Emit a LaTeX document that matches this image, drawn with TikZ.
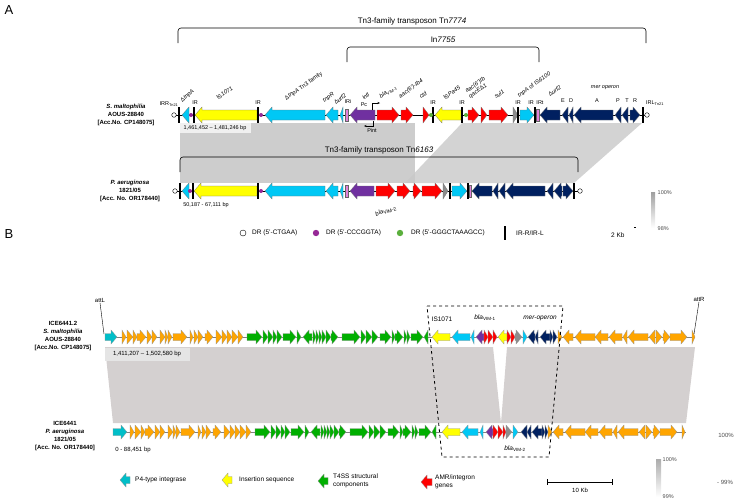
\documentclass[tikz,border=0pt]{standalone}
\usepackage{fontspec}
\setmainfont{Liberation Sans}
\usetikzlibrary{arrows.meta}

\definecolor{tnpcyan}{RGB}{0,200,245}
\definecolor{isyellow}{RGB}{255,255,0}
\definecolor{intpurple}{RGB}{112,48,160}
\definecolor{amrred}{RGB}{255,0,0}
\definecolor{mernavy}{RGB}{0,32,96}
\definecolor{genegray}{RGB}{140,140,140}
\definecolor{irpink}{RGB}{225,130,220}
\definecolor{drpurple}{RGB}{150,40,150}
\definecolor{drgreen}{RGB}{90,175,60}
\definecolor{intteal}{RGB}{0,190,200}
\definecolor{iceorange}{RGB}{255,165,0}
\definecolor{tfgreen}{RGB}{0,175,0}
\definecolor{shadeA}{RGB}{200,200,200}
\definecolor{shadeB}{RGB}{212,208,208}

\def\headl{7}\def\bodyh{5}\def\headh{8}
\newcommand{\gene}[4]{%
  \pgfmathsetmacro{\gta}{#1}%
  \pgfmathsetmacro{\gtb}{#2}%
  \pgfmathsetmacro{\glen}{\gtb-\gta}%
  \pgfmathsetmacro{\gneck}{\gtb-\glen/abs(\glen)*min(abs(\glen),\headl)}%
  \filldraw[gene, fill=#4] (\gta,{#3-\bodyh}) -- (\gneck,{#3-\bodyh}) -- (\gneck,{#3-\headh})
    -- (\gtb,#3) -- (\gneck,{#3+\headh}) -- (\gneck,{#3+\bodyh}) -- (\gta,{#3+\bodyh}) -- cycle;}

\def\orangelist{122/126,127/133,133/137,137/146,147/152,152/157,160/165,165/168,168/172,173/187,190/193,194/198,198/203,205/213,216/222,222/227,227/232,232/238,238/243}
\def\greenlist{247/262,263/268,268/273,273/277,277/282,283/296,297/301,312/303,313/316,316/319,319/322,322/326,326/331,331/338,342/360,361/366,366/372,372/378,380/391,392/395,395/403,404/407,407/410,411/423,428/424}
\def\rightlist{558/562,573/563,595/575,608/595,622/609,627/623,648/628,655/649,656/662,663/670,670/687,692/695}

\begin{document}
\begin{tikzpicture}[x=1pt,y=-1pt,
    gene/.style={draw=black!55, line width=0.25pt},
    lbl/.style={font=\fontsize{5.5}{6}\selectfont, inner sep=0.5pt},
    rlbl/.style={lbl, font=\fontsize{5.8}{6.2}\selectfont, anchor=south west, rotate=35},
    tlbl/.style={font=\fontsize{8}{9}\selectfont, inner sep=0pt},
    leg/.style={font=\fontsize{6.5}{7.5}\selectfont, inner sep=0pt, anchor=west},
    strain/.style={font=\bfseries\fontsize{6}{8}\selectfont, align=center, inner sep=0pt},
    irbar/.style={line width=1.6pt},
    bracket/.style={line width=0.6pt, rounded corners=3pt},
    panel/.style={font=\fontsize{13}{14}\selectfont, inner sep=0pt}]
\useasboundingbox (0,0) rectangle (735,499);

% ---------------- panel A ----------------
\node[panel] (pA) at (9,10) {A};

% shading
\fill[shadeA, opacity=0.9] (180,123) rectangle (415,183);
\fill[shadeA, opacity=0.8] (462,123) -- (642,123) -- (574,183) -- (405,183) -- cycle;
\fill[gray!12] (180,123) rectangle (251,133);
\node[lbl] (rangeA1) at (215,128) {1,461,452 -- 1,481,246 bp};

% brackets
\draw[bracket] (178,43) -- (178,28) -- (646,28) -- (646,43);
\node[tlbl] (tn7774) at (412,21) {Tn3-family transposon Tn\textit{7774}};
\draw[bracket] (347,62) -- (347,47) -- (539,47) -- (539,62);
\node[tlbl] (in7755) at (443,40) {In\textit{7755}};
\draw[bracket] (180,172) -- (180,157) -- (578,157) -- (578,172);
\node[tlbl] (tn6163) at (379,150) {Tn3-family transposon Tn\textit{6163}};

% row A1
\node[strain] (strainA1) at (126,115) {\textit{S. maltophilia}\\AOUS-28840\\{[Acc.No. CP148075]}};
\draw[line width=0.5pt] (174,115) -- (647,115);
\foreach \t/\h/\c in {189/182/tnpcyan, 257/195/isyellow, 325/265/tnpcyan, 338/326/tnpcyan, 343/340/tnpcyan,
    375/350/intpurple, 377/399/amrred, 401/413/amrred, 423/429/amrred, 461/435/isyellow, 468/479/amrred,
    481/487/amrred, 489/508/amrred, 513/518/genegray, 520/534/tnpcyan, 560/540/mernavy, 568/562/mernavy,
    573/569/mernavy, 613/574/mernavy, 621/615/mernavy, 628/622/mernavy, 630/640/mernavy}
  \gene{\t}{\h}{115}{\c};
\foreach \x in {179,194,258,433,462,518,535,643}
  \draw[irbar] (\x,107) -- (\x,123);
\foreach \x in {346.5,537.5}
  \filldraw[fill=irpink, draw=black!60, line width=0.2pt] (\x-1.3,109) rectangle (\x+1.3,121);
\foreach \x in {191,261} \fill[drpurple] (\x,115) circle (2);
\foreach \x in {431,466} \fill[drgreen] (\x,115) circle (2);
\foreach \x in {174,647} \draw[fill=white, line width=0.4pt] (\x,115) circle (2.3);

% labels A1
\node[lbl] (irr) at (169,104) {IRR\textsubscript{Tn21}};
\node[rlbl, rotate=5] (dtnpa1) at (183,104) {Δ\textit{tnpA}};
\node[lbl] (ir1) at (195,103) {IR};
\node[rlbl] (is1071) at (218,101) {IS\textit{1071}};
\node[lbl] (ir2) at (258,103) {IR};
\node[rlbl] (dtnpa2) at (287,102) {Δ\textit{tnpA} Tn3 family};
\node[rlbl] (tnpr) at (325,104) {\textit{tnpR}};
\node[rlbl, rotate=5] (durf1) at (336,106) {Δ\textit{urf2}};
\node[lbl] (iri) at (348,102) {IRi};
\node[rlbl, rotate=5] (inti) at (364,101) {\textit{intI}};
\node[lbl] (pc) at (364,105) {Pc};
\draw[-{Stealth[length=2.5pt,width=2pt]}, line width=0.4pt] (372,110) |- (380,103);
\draw[-{Stealth[length=2.5pt,width=2pt]}, line width=0.4pt] (373,121) |- (364,126);
\node[lbl] (pint) at (372,131) {Pint};
\node[rlbl, rotate=-5] (vim1) at (381,100) {\textit{bla}\textsubscript{VIM-1}};
\node[rlbl] (aac1) at (401,100) {\textit{aac(6')-Ib4}};
\node[rlbl] (cld) at (421,100) {\textit{cld}};
\node[lbl] (ir3) at (433,103) {IR};
\node[rlbl] (ispa) at (445,101) {IS\textit{Pa45}};
\node[lbl] (ir4) at (462,103) {IR};
\node[rlbl, align=left] (aac2) at (471,100) {\textit{aac(6')Ib}\\\textit{qacE}Δ\textit{1}};
\node[rlbl] (sul) at (496,100) {\textit{sul1}};
\node[rlbl] (is6100) at (520,99) {\textit{tnpA} of IS\textit{6100}};
\node[lbl] (ir5) at (518,103) {IR};
\node[lbl] (ir6) at (531,103) {IR};
\node[lbl] (irt) at (540,103) {IRt};
\node[rlbl] (durf2) at (550,98) {Δ\textit{urf2}};
\foreach \x/\s in {563/E,571/D,597/A,618/P,627/T,635/R}
  \node[lbl] (mer\s) at (\x,101) {\s};
\node[lbl] (mer) at (605,88) {\textit{mer operon}};
\node[lbl] (irl) at (655,103) {IRL\textsubscript{Tn21}};

% row A2
\node[strain] (strainA2) at (130,191) {\textit{P. aeruginosa}\\1821/05\\{[Acc. No. OR178440]}};
\draw[line width=0.5pt] (175,191) -- (580,191);
\foreach \t/\h/\c in {189/182/tnpcyan, 257/194/isyellow, 325/265/tnpcyan, 338/326/tnpcyan, 343/340/tnpcyan,
    374/350/intpurple, 376/395/amrred, 397/410/amrred, 413/421/amrred, 422/442/amrred, 443/448/genegray,
    452/467/tnpcyan, 492/472/mernavy, 498/493/mernavy, 505/499/mernavy, 545/506/mernavy, 553/547/mernavy,
    562/554/mernavy, 563/573/mernavy}
  \gene{\t}{\h}{191}{\c};
\foreach \x in {180,193,258,450,468,574}
  \draw[irbar] (\x,183) -- (\x,199);
\foreach \x in {346.5,470}
  \filldraw[fill=irpink, draw=black!60, line width=0.2pt] (\x-1.3,185) rectangle (\x+1.3,197);
\foreach \x in {190,261} \fill[drpurple] (\x,191) circle (2);
\foreach \x in {175,580} \draw[fill=white, line width=0.4pt] (\x,191) circle (2.3);
\node[lbl] (rangeA2) at (206,205) {50,187 - 67,111 bp};
\node[lbl, font=\fontsize{6}{7}\selectfont, rotate=20] (vim2a) at (386,211) {\textit{bla}\textsubscript{VIM-2}};

% legend A
\draw[fill=white, line width=0.4pt] (243,233) circle (3);
\node[leg] (drA) at (252,233) {DR (5'-CTGAA)};
\fill[drpurple] (316,233) circle (3.2);
\node[leg] (drB) at (326,233) {DR (5'-CCCGGTA)};
\fill[drgreen] (400,233) circle (3.2);
\node[leg] (drC) at (411,233) {DR (5'-GGGCTAAAGCC)};
\draw[line width=2pt] (505,226) -- (505,240);
\node[leg] (irleg) at (516,233) {IR-R/IR-L};
\node[leg] (kb2) at (611,235) {2 Kb};
\draw[line width=0.3pt] (634,227) -- (636,227);
\shade[top color=gray!75, bottom color=white] (651,192) rectangle (655,228);
\node[lbl, anchor=west, text=black!70] (pc100a) at (657,193) {100\%};
\node[lbl, anchor=west, text=black!70] (pc98a) at (657,229) {98\%};

% ---------------- panel B ----------------
\node[panel] (pB) at (9,234) {B};
\def\headl{6}\def\bodyh{3.5}\def\headh{7}
\tikzset{gene/.style={draw=gray!85, line width=0.25pt}}

% shading
\fill[shadeB] (105,347) -- (493,347) -- (501,423) -- (113,423) -- cycle;
\fill[shadeB] (507,347) -- (695,347) -- (686,423) -- (501,423) -- cycle;
\fill[gray!20] (105,348) rectangle (190,361);
\node[lbl, font=\fontsize{6}{7}\selectfont] (rangeB1) at (147,354) {1,411,207 -- 1,502,580 bp};

% strain labels
\node[strain] (strainB1) at (63,336) {ICE6441.2\\\textit{S. maltophilia}\\AOUS-28840\\{[Acc.No. CP148075]}};
\node[strain] (strainB2) at (65,436) {ICE6441\\\textit{P. aeruginosa}\\1821/05\\{[Acc. No. OR178440]}};

% backbones
\draw[gray, line width=0.4pt] (105,337) -- (695,337);
\draw[gray, line width=0.4pt] (113,432) -- (686,432);

% genes of both rows
\gene{105}{117}{337}{intteal}
\gene{113}{127}{432}{intteal}
\foreach \row/\dx in {337/0,432/8}{
  \foreach \t/\h in \orangelist {\gene{\t+\dx}{\h+\dx}{\row}{iceorange}}
  \foreach \t/\h in \greenlist {\gene{\t+\dx}{\h+\dx}{\row}{tfgreen}}
}
\foreach \row/\dx in {337/0,432/-10}{
  \foreach \t/\h in \rightlist {\gene{\t+\dx}{\h+\dx}{\row}{iceorange}}
}
\foreach \t/\h/\c in {450/432/isyellow, 470/452/tnpcyan, 474/471/tnpcyan, 484/476/intpurple, 484/488/amrred,
    488/493/amrred, 493/497/amrred, 507/498/isyellow, 507/511/amrred, 511/515/amrred, 515/522/genegray,
    523/527/tnpcyan, 535/528/mernavy, 538/535/mernavy, 550/540/mernavy, 550/553/mernavy, 553/557/mernavy}
  \gene{\t}{\h}{337}{\c};
\foreach \t/\h/\c in {460/442/isyellow, 478/462/tnpcyan, 483/480/tnpcyan, 493/486/intpurple, 493/498/amrred,
    498/503/amrred, 503/506/amrred, 506/512/genegray, 513/518/tnpcyan, 527/521/mernavy, 531/527/mernavy,
    542/532/mernavy, 542/545/mernavy, 545/548/mernavy}
  \gene{\t}{\h}{432}{\c};

% att sites
\node[lbl, font=\fontsize{6}{7}\selectfont] (attl) at (100,300) {attL};
\draw[line width=0.4pt] (attl.south) -- (104,334);
\node[lbl, font=\fontsize{6}{7}\selectfont] (attr) at (699,299) {attR};
\draw[line width=0.4pt] (attr.south) -- (694,334);

% labels and box
\node[lbl, font=\fontsize{6.5}{7}\selectfont] (isB) at (442,319) {IS1071};
\node[lbl, font=\fontsize{6.5}{7}\selectfont] (vimB1) at (485,318) {\textit{bla}\textsubscript{VIM-1}};
\node[lbl, font=\fontsize{6.5}{7}\selectfont] (merB) at (540,318) {\textit{mer-operon}};
\node[lbl, font=\fontsize{6.5}{7}\selectfont] (vimB2) at (515,449) {\textit{bla}\textsubscript{VIM-2}};
\node[lbl, font=\fontsize{6}{7}\selectfont] (rangeB2) at (133,450) {0 - 88,451 bp};
\draw[dashed, line width=0.8pt] (427,306) -- (563,306) -- (549,457) -- (442,457) -- cycle;

% legend B
\gene{130}{120}{480}{intteal}
\node[leg] (legint) at (135,480) {P4-type integrase};
\gene{232}{222}{480}{isyellow}
\node[leg] (legis) at (239,480) {Insertion sequence};
\gene{328}{318}{481}{tfgreen}
\node[leg, align=left] (legt4) at (333,481) {T4SS structural\\components};
\gene{432}{421}{482}{amrred}
\node[leg, align=left] (legamr) at (435,482) {AMR/integron\\genes};
\draw[line width=0.4pt] (547,479) -- (547,485) (547,482) -- (612,482) (612,479) -- (612,485);
\node[lbl, font=\fontsize{6}{7}\selectfont] (kb10) at (580,490) {10 Kb};
\shade[top color=gray!65, bottom color=white] (656,459) rectangle (661,497);
\node[lbl, anchor=west, text=black!70] (pc100b) at (662,460) {100\%};
\node[lbl, anchor=west, text=black!70] (pc99b) at (662,497) {99\%};
\node[lbl, font=\fontsize{6}{7}\selectfont, text=black!70] (pc100c) at (726,435) {100\%};
\node[lbl, font=\fontsize{6}{7}\selectfont, text=black!70] (pc99c) at (725,482) {- 99\%};
\end{tikzpicture}
\end{document}
